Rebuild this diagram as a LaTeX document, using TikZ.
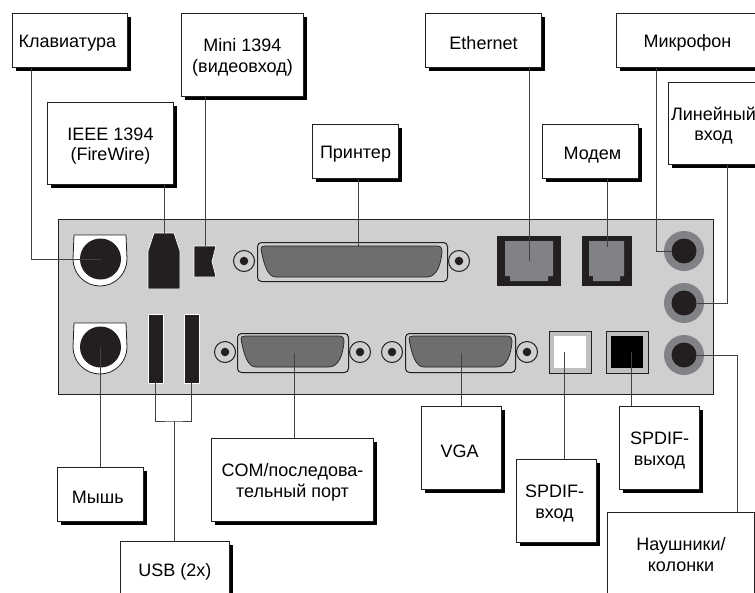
\documentclass[tikz,border=0pt]{standalone}
\usepackage{fontspec}
\setmainfont{Liberation Sans}
\usetikzlibrary{shadows}

\definecolor{panelgray}{HTML}{CFCFCF}
\definecolor{inkdark}{HTML}{231F20}
\definecolor{portgray}{HTML}{6D6E70}
\definecolor{jackgray}{HTML}{808285}

\newcommand{\twolines}[2]{\raisebox{1.2pt}[0pt][0pt]{\begin{tabular}{@{}c@{}}#1\\#2\end{tabular}}}

\begin{document}
\begin{tikzpicture}[
    x=0.75pt, y=-0.75pt,
    font=\fontsize{13.5}{15.5}\selectfont,
    label/.style 2 args={
        draw=inkdark,
        fill=white,
        line width=0.75pt,
        align=center,
        anchor=north west,
        inner sep=0pt,
        minimum width=#1*0.75pt,
        minimum height=#2*0.75pt,
        execute at begin node={\rule{0pt}{14pt}},
        general shadow={fill=black, shadow xshift=2.6pt, shadow yshift=-2.6pt}
    },
    line/.style={draw=inkdark!85, line width=0.75pt},
    solidport/.style 2 args={
        draw=none,
        fill=inkdark,
        inner sep=0pt,
        minimum width=#1*0.75pt,
        minimum height=#2*0.75pt
    },
    disc/.style 2 args={
        circle,
        fill=#2,
        inner sep=0pt,
        minimum size=#1*1.5pt
    },
    shell/.style 2 args={
        draw=inkdark,
        line width=0.75pt,
        rounded corners=3pt,
        inner sep=0pt,
        anchor=north west,
        minimum width=#1*0.75pt,
        minimum height=#2*0.75pt
    },
    screw/.style={circle, draw=inkdark, line width=0.75pt, fill=panelgray, inner sep=0pt, minimum size=15.75pt},
    pin/.style={circle, fill=inkdark, inner sep=0pt, minimum size=6.4pt},
    dsub/.style={draw=inkdark, line width=0.5pt, fill=portgray}
]
\useasboundingbox (0,0) rectangle (755,592);
\clip (0,0) rectangle (755,592);

% panel
\node[draw=inkdark, line width=0.9pt, fill=panelgray, anchor=north west, inner sep=0pt,
    minimum width=655*0.75pt, minimum height=175*0.75pt] (panel) at (58,219) {};

% round keyboard and mouse sockets
\foreach \y in {259,347} {
    \draw[draw=inkdark, line width=0.6pt, fill=white] (74,\y-24) -- (126,\y-24) -- (127,\y)
        arc[start angle=0, end angle=180, radius=27] -- cycle;
}
\node[disc={20.5}{inkdark}] (kbdport) at (100.5,259) {};
\node[disc={20.5}{inkdark}] (mouseport) at (100.5,347) {};

% firewire ports
\draw[draw=white, line width=0.5pt, fill=inkdark] (154,233) -- (174,233) -- (180,251) -- (180,289)
    -- (148,289) -- (148,251) -- cycle;
\coordinate (fwport) at (164,233);
\draw[draw=white, line width=0.5pt, fill=inkdark] (194,246) -- (216,246) -- (212,261.5) -- (216,277)
    -- (194,277) -- cycle;
\coordinate (miniport) at (205,246);

% usb
\node[solidport={15}{69}, draw=white, line width=0.4pt] (usba) at (155.5,348.5) {};
\node[solidport={15}{69}, draw=white, line width=0.4pt] (usbb) at (191.5,348.5) {};

% d-sub connectors
\node[shell={190}{39}] (lptshell) at (257,242) {};
\node[shell={111}{39}] (comshell) at (237,333) {};
\node[shell={110}{39}] (vgashell) at (405,333) {};
\foreach \l/\r/\t in {261/442/246, 241/344/336, 409/512/336} {
    \draw[dsub] (\l,\t+3) .. controls (\l+3,\t+20) and (\l+7,\t+31) .. (\l+15,\t+31)
        -- (\r-15,\t+31) .. controls (\r-5,\t+31) and (\r-1,\t+18) .. (\r,\t+6)
        .. controls (\r,\t+2) and (\r-1,\t) .. (\r-5,\t)
        -- (\l+4,\t) .. controls (\l+1,\t) and (\l,\t+1) .. (\l,\t+3) -- cycle;
}
\foreach \n/\x/\y in {a/244/261, b/459/261, c/225/352, d/360/352, e/392/352, f/527/352} {
    \node[screw] (screw\n) at (\x,\y) {};
    \node[pin] (pin\n) at (\x,\y) {};
}
\coordinate (lptport) at (358,246);
\coordinate (comport) at (294,353);
\coordinate (vgaport) at (461,353);

% rj sockets
\node[solidport={64}{50}] (ethport) at (529,261) {};
\draw[draw=none, fill=jackgray] (505,241) -- (553,241) -- (553,276) -- (548,276) -- (548,281)
    -- (510,281) -- (510,276) -- (505,276) -- cycle;
\node[solidport={50}{50}] (modemport) at (607,261) {};
\draw[draw=none, fill=jackgray] (589,241) -- (624,241) -- (624,276) -- (620,276) -- (620,281)
    -- (593,281) -- (593,276) -- (589,276) -- cycle;

% spdif
\node[draw=inkdark, line width=0.75pt, fill=black!25, inner sep=0pt, minimum size=31.5pt] (spinshell) at (570,352) {};
\node[fill=white, inner sep=0pt, minimum size=24pt] (spinport) at (570,352) {};
\node[draw=inkdark, line width=0.75pt, fill=black!25, inner sep=0pt, minimum size=31.5pt] (spoutshell) at (627,352) {};
\node[fill=black, inner sep=0pt, minimum size=24pt] (spoutport) at (627,352) {};

% audio jacks
\node[disc={20}{jackgray}] (micring) at (684,251) {};
\node[disc={20}{jackgray}] (linering) at (684,303) {};
\node[disc={20}{jackgray}] (phonering) at (684,355) {};
\node[disc={12.5}{inkdark}] (micport) at (684,251) {};
\node[disc={12.5}{inkdark}] (lineport) at (684,303) {};
\node[disc={12.5}{inkdark}] (phoneport) at (684,355) {};

% labels
\node[label={115}{54}] (kbd) at (12,13) {Клавиатура\hspace*{4pt}};
\node[label={122}{83}] (mini) at (181,13) {\twolines{Mini 1394}{(видеовход)}};
\node[label={126}{82}] (ieee) at (47,102) {\twolines{IEEE 1394}{(FireWire)}};
\node[label={86}{54}] (printer) at (312,124) {Принтер};
\node[label={116}{54}] (eth) at (425,13) {Ethernet};
\node[label={96}{54}] (modem) at (542,124) {\hspace*{3pt}Модем};
\node[label={142}{54}] (mic) at (616,13) {Микрофон};
\node[label={90}{82}] (linein) at (668,82) {\twolines{Линейный}{вход}};
\node[label={86}{54}] (mouse) at (57,467) {Мышь\hspace*{4pt}};
\node[label={109}{56}] (usb) at (120,541) {USB (2x)};
\node[label={162}{83}] (com) at (211,438) {\twolines{COM/последова-}{тельный порт}};
\node[label={80}{83}] (vga) at (421,406) {VGA\hspace*{3pt}};
\node[label={80}{83}] (spin) at (516,459) {\twolines{SPDIF-}{вход}\hspace*{3pt}};
\node[label={80}{83}] (spout) at (619,406) {\twolines{SPDIF-}{выход}};
\node[label={147}{83}] (phones) at (607,512) {\twolines{Наушники/}{колонки}};

% connectors
\draw[line] (kbd.south -| 31,0) |- (kbdport.center);
\draw[line] (ieee.south -| fwport) -- (fwport);
\draw[line] (mini.south -| miniport) -- (miniport);
\draw[line] (printer.south -| lptport) -- (lptport);
\draw[line] (eth.south -| ethport) -- (ethport.center);
\draw[line] (modem.south -| modemport) -- (607,247);
\draw[line] (mic.south -| 656,0) |- (micport.west);
\draw[line] (linein.south -| 727,0) |- (lineport.east);
\draw[line] (phoneport.east) -| (phones.north -| 737,0);
\draw[line] (mouseport.center) -- (mouse.north -| mouseport);
\draw[line] (usba.south) |- (174,421) -| (usbb.south);
\draw[line] (174,421) -- (usb.north -| 174,0);
\draw[line] (comport) -- (com.north -| comport);
\draw[line] (vgaport) -- (vga.north -| vgaport);
\draw[line] (564,352) -- (spin.north -| 564,0);
\draw[line] (631,352) -- (spout.north -| 631,0);

\end{tikzpicture}
\end{document}
